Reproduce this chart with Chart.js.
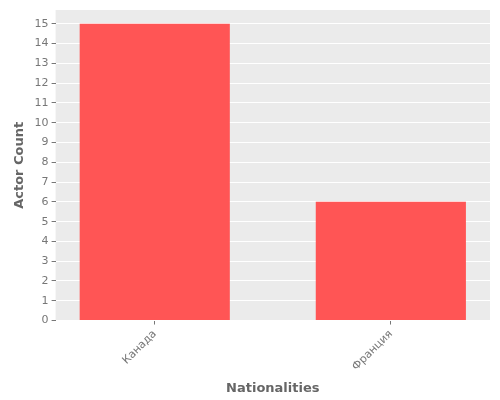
<!DOCTYPE html>
<html>
<head>
<meta charset="utf-8">
<script src="https://cdn.jsdelivr.net/npm/chart.js@4"></script>
<style>
  body { margin: 0; background: #fff; }
  #wrap { width: 500px; height: 400px; }
</style>
</head>
<body>
<div id="wrap"><canvas id="chart"></canvas></div>
<script>
const categories = ['Канада', 'Франция'];
const actorCounts = [15, 6];
const yTicks = [0, 1, 2, 3, 4, 5, 6, 7, 8, 9, 10, 11, 12, 13, 14, 15];

// plot area background like ggplot
const bgPlugin = {
    id: 'bg',
    beforeDraw(chart) {
        const { ctx, chartArea: a } = chart;
        ctx.save();
        ctx.fillStyle = '#ebebeb';
        ctx.fillRect(a.left, a.top, a.right - a.left, a.bottom - a.top);
        ctx.restore();
    }
};

new Chart(document.getElementById('chart').getContext('2d'), {
    type: 'bar',
    data: {
        datasets: [{
            data: actorCounts.map((v, i) => ({ x: i, y: v })),
            backgroundColor: '#ff5555',
            barPercentage: 0.636,
            categoryPercentage: 1
        }]
    },
    options: {
        responsive: true,
        maintainAspectRatio: false,
        animation: false,
        layout: { padding: { top: 10, right: 10, left: 8 } },
        plugins: { legend: { display: false }, tooltip: { enabled: false } },
        scales: {
            x: {
                type: 'linear',
                offset: false,
                min: -0.42,
                max: 1.42,
                afterBuildTicks: s => { s.ticks = categories.map((c, i) => ({ value: i })); },
                grid: { offset: false, color: '#ffffff', tickColor: '#777', tickLength: 4, drawOnChartArea: false },
                border: { display: false },
                ticks: {
                    color: '#777',
                    font: { family: 'DejaVu Sans', size: 11 },
                    maxRotation: 45, minRotation: 45,
                    callback: v => categories[v]
                },
                title: { display: true, text: 'Nationalities', color: '#666', font: { family: 'DejaVu Sans', size: 13, weight: 'bold' } }
            },
            y: {
                min: 0,
                max: 15.7,
                afterBuildTicks: s => { s.ticks = yTicks.map(v => ({ value: v })); },
                grid: { color: '#ffffff', tickColor: '#777', tickLength: 4 },
                border: { display: false },
                ticks: { color: '#777', font: { family: 'DejaVu Sans', size: 11 }, padding: 3 },
                title: { display: true, text: 'Actor Count', color: '#666', font: { family: 'DejaVu Sans', size: 13, weight: 'bold' } }
            }
        }
    },
    plugins: [bgPlugin]
});
</script>
</body>
</html>
